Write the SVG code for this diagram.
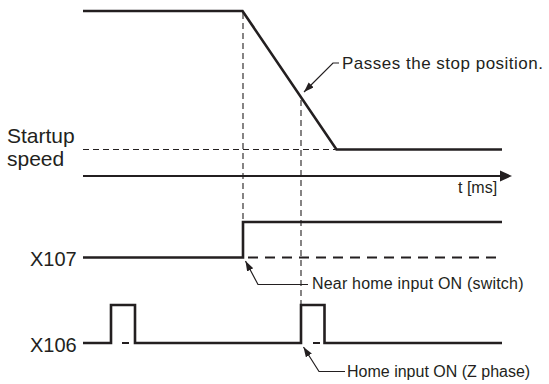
<svg xmlns="http://www.w3.org/2000/svg" width="549" height="384" viewBox="0 0 549 384">
<style>
text{font-family:"Liberation Sans",Arial,sans-serif;fill:#231f20}
.sig{fill:none;stroke:#231f20;stroke-width:2.6;stroke-linejoin:miter}
.thin{fill:none;stroke:#231f20;stroke-width:1.1;stroke-dasharray:6,4}
.dash{fill:none;stroke:#231f20;stroke-width:2.2;stroke-dasharray:10,7}
.lead{fill:none;stroke:#231f20;stroke-width:1.2}
</style>
<defs>
<marker id="ah" markerUnits="userSpaceOnUse" markerWidth="11" markerHeight="8" refX="10" refY="3.5" orient="auto">
<path d="M0,0 L10,3.5 L0,7 z" fill="#231f20"/>
</marker>
</defs>
<rect width="549" height="384" fill="#ffffff"/>
<g id="connectors">
<path class="thin" d="M243,13 V256"/>
<path class="thin" d="M301,100 V304"/>
<path class="thin" d="M83,149.5 H335"/>
<path class="dash" d="M248,257.5 H496"/>
<path class="dash" d="M313,343 H320 M122,343 H129"/>
<path class="lead" d="M339,63 H333 L304,92" marker-end="url(#ah)"/>
<path class="lead" d="M308,284.5 H258 L245.5,261" marker-end="url(#ah)"/>
<path class="lead" d="M345,371.5 H319 L303.5,347" marker-end="url(#ah)"/>
</g>
<g id="speed">
<path class="sig" d="M83,11 H242.5 L336.5,149.5 H502"/>
</g>
<g id="time-axis">
<path d="M83,176 H502" stroke="#231f20" stroke-width="2"/>
<path d="M500,170.5 L512,176 L500,181.5 z" fill="#231f20"/>
<text x="458" y="193" font-size="16">t [ms]</text>
</g>
<g id="startup">
<text x="7" y="143" font-size="21">Startup</text>
<text x="7" y="166" font-size="21">speed</text>
</g>
<g id="x107">
<text x="30" y="266" font-size="20">X107</text>
<path class="sig" d="M83,257.5 H243 V222 H502"/>
</g>
<g id="x106">
<text x="30" y="351.5" font-size="20">X106</text>
<path class="sig" d="M83,343 H111 V305 H135 V343 H301 V305 H324.5 V343 H502"/>
</g>
<g id="label-stop">
<text x="342" y="68.5" font-size="17" letter-spacing="0.5">Passes the stop position.</text>
</g>
<g id="label-near">
<text x="312" y="288.5" font-size="16" letter-spacing="0.2">Near home input ON (switch)</text>
</g>
<g id="label-home">
<text x="347" y="377" font-size="16">Home input ON (Z phase)</text>
</g>
</svg>
